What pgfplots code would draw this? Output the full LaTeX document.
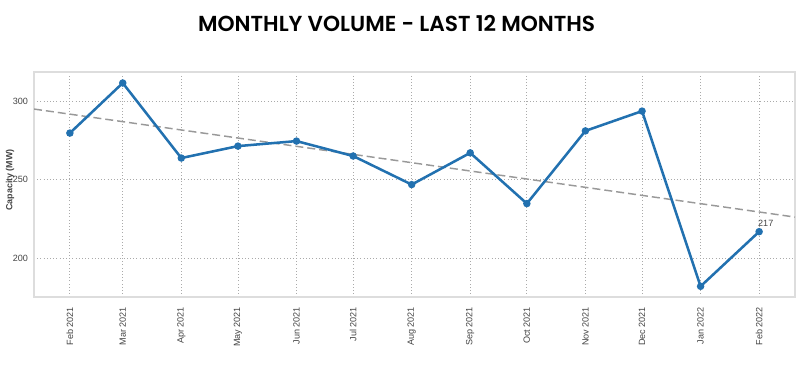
\documentclass[border=0pt]{standalone}
\usepackage{pgfplots}
\pgfplotsset{compat=1.18}
\usepackage{fontspec}
\setmainfont{Liberation Sans}
\newfontfamily\titlefont{Poppins}[BoldFont={* SemiBold}]
\definecolor{lineblue}{HTML}{2271B0}
\definecolor{ticktext}{HTML}{444444}
\definecolor{framegray}{HTML}{DDDDDD}
\definecolor{gridgray}{HTML}{AAAAAA}
\definecolor{trendgray}{HTML}{999999}
\begin{document}
\begin{tikzpicture}
\useasboundingbox (0,0) rectangle (600pt,292.5pt);
\node[anchor=center] at (297.5pt,275pt) {\resizebox{297.75pt}{!}{\titlefont\bfseries MONTHLY VOLUME - LAST 12 MONTHS}};
\node[rotate=90, text=ticktext, font=\fontsize{6.7}{8}\selectfont\bfseries] at (7.5pt,157.5pt) {Capacity (MW)};
\begin{axis}[
  at={(25.5pt,69.75pt)}, anchor=south west,
  scale only axis, width=570.75pt, height=168.75pt,
  xmin=-19, xmax=384, ymin=175.2, ymax=318.5,
  xtick={0,28,59,89,120,150,181,212,242,273,303,334,365},
  xticklabels={Feb 2021,Mar 2021,Apr 2021,May 2021,Jun 2021,Jul 2021,Aug 2021,Sep 2021,Oct 2021,Nov 2021,Dec 2021,Jan 2022,Feb 2022},
  ytick={200,250,300},
  x tick label style={rotate=90, anchor=east, font=\fontsize{6.8}{8}\selectfont, text=ticktext},
  y tick label style={font=\fontsize{6.8}{8}\selectfont, text=ticktext},
  /pgf/number format/assume math mode=true,
  major tick length=0pt,
  xticklabel shift=4pt, yticklabel shift=1pt,
  grid=major,
  major grid style={gridgray, dotted, line width=0.6pt},
  axis line style={framegray, line width=0.8pt},
  clip=true,
]
\addplot[trendgray, line width=1.1pt, dash pattern=on 6pt off 3pt] coordinates {(-19,294.9) (384,226.1)};
\addplot[lineblue, line width=1.9pt, mark=*, mark size=1.8pt] coordinates {
(0,279.6) (28,311.5) (59,263.7) (89,271.3) (120,274.5) (150,265.0) (181,246.8) (212,267.0) (242,234.7) (273,281.0) (303,293.6) (334,182.0) (365,216.8)};
\node[text=ticktext, font=\fontsize{6.8}{8}\selectfont, anchor=base, inner sep=0pt] at (axis cs:368.5,219.8) {217};
\end{axis}
\end{tikzpicture}
\end{document}
